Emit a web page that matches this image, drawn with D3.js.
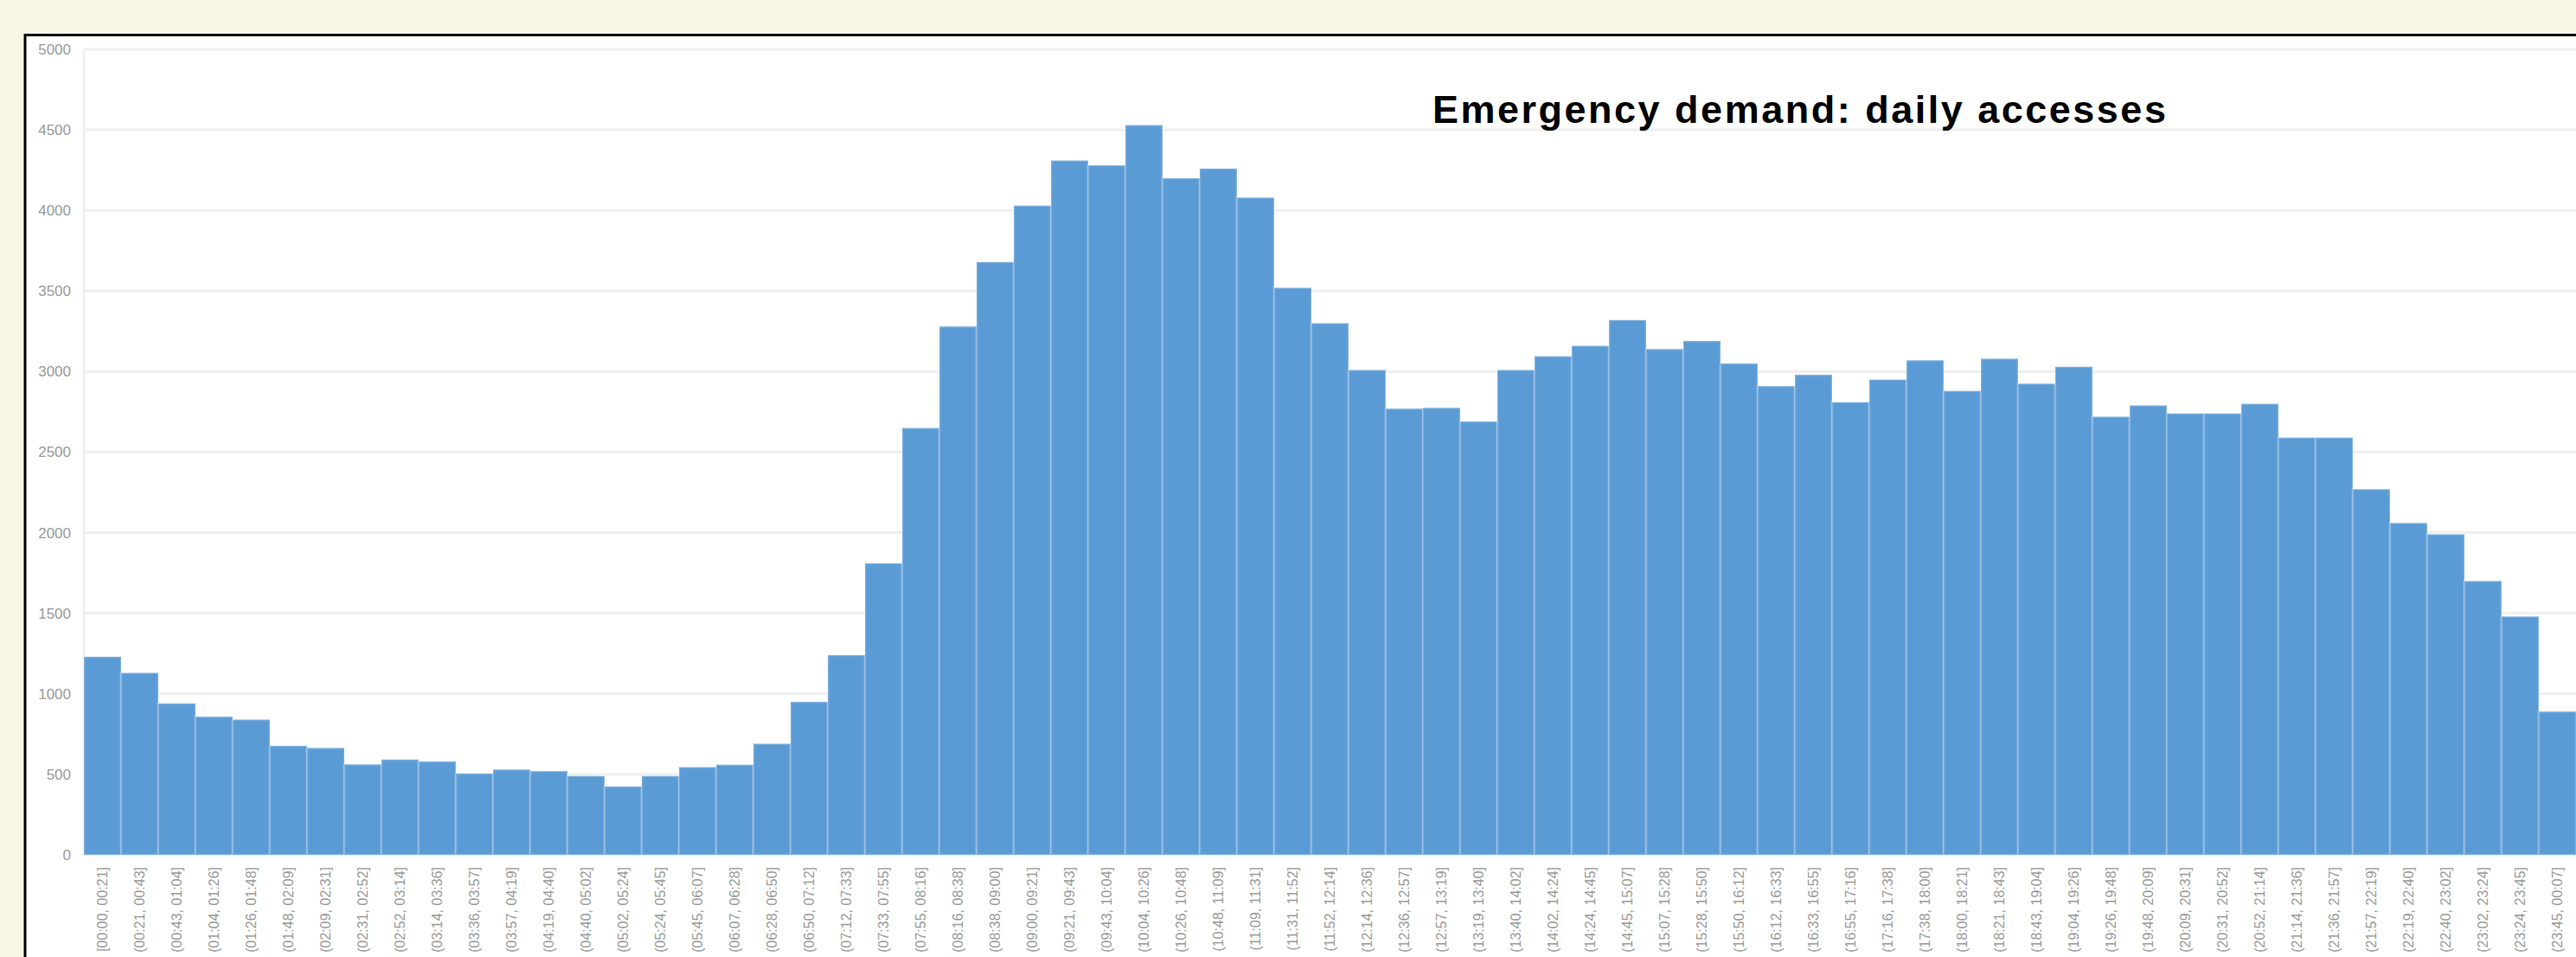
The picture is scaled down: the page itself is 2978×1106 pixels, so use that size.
<!DOCTYPE html>
<html>
<head>
<meta charset="utf-8">
<script src="https://cdn.jsdelivr.net/npm/d3@7"></script>
<style>
    body { margin: 0; background: #f8f6e4; }
    svg { display: block; }
</style>
</head>
<body>
<script>
// time bins (labels as printed on the x axis)
var bins = ["[00:00, 00:21]", "(00:21, 00:43]", "(00:43, 01:04]", "(01:04, 01:26]", "(01:26, 01:48]",
    "(01:48, 02:09]", "(02:09, 02:31]", "(02:31, 02:52]", "(02:52, 03:14]", "(03:14, 03:36]",
    "(03:36, 03:57]", "(03:57, 04:19]", "(04:19, 04:40]", "(04:40, 05:02]", "(05:02, 05:24]",
    "(05:24, 05:45]", "(05:45, 06:07]", "(06:07, 06:28]", "(06:28, 06:50]", "(06:50, 07:12]",
    "(07:12, 07:33]", "(07:33, 07:55]", "(07:55, 08:16]", "(08:16, 08:38]", "(08:38, 09:00]",
    "(09:00, 09:21]", "(09:21, 09:43]", "(09:43, 10:04]", "(10:04, 10:26]", "(10:26, 10:48]",
    "(10:48, 11:09]", "(11:09, 11:31]", "(11:31, 11:52]", "(11:52, 12:14]", "(12:14, 12:36]",
    "(12:36, 12:57]", "(12:57, 13:19]", "(13:19, 13:40]", "(13:40, 14:02]", "(14:02, 14:24]",
    "(14:24, 14:45]", "(14:45, 15:07]", "(15:07, 15:28]", "(15:28, 15:50]", "(15:50, 16:12]",
    "(16:12, 16:33]", "(16:33, 16:55]", "(16:55, 17:16]", "(17:16, 17:38]", "(17:38, 18:00]",
    "(18:00, 18:21]", "(18:21, 18:43]", "(18:43, 19:04]", "(19:04, 19:26]", "(19:26, 19:48]",
    "(19:48, 20:09]", "(20:09, 20:31]", "(20:31, 20:52]", "(20:52, 21:14]", "(21:14, 21:36]",
    "(21:36, 21:57]", "(21:57, 22:19]", "(22:19, 22:40]", "(22:40, 23:02]", "(23:02, 23:24]",
    "(23:24, 23:45]", "(23:45, 00:07]"];

// accesses per bin
var accesses = [1230, 1130, 940, 858, 840, 677, 664, 562, 592, 580,
    505, 530, 520, 490, 425, 490, 545, 560, 690, 950,
    1240, 1810, 2650, 3280, 3680, 4030, 4310, 4280, 4530, 4200,
    4260, 4080, 3520, 3300, 3010, 2770, 2775, 2690, 3010, 3095,
    3160, 3320, 3140, 3190, 3050, 2910, 2980, 2810, 2950, 3070,
    2880, 3080, 2925, 3030, 2720, 2790, 2740, 2740, 2800, 2590,
    2590, 2270, 2060, 1990, 1700, 1480, 890];

var yTicks = [0, 500, 1000, 1500, 2000, 2500, 3000, 3500, 4000, 4500, 5000];

var title = "Emergency demand: daily accesses";

function plot_it() {
    var width = 2978,
        height = 1106;
    var left = 97,
        right = 2978,
        top = 57,
        bottom = 988;

    var svg = d3.select('body').append('svg').attr('width', width).attr('height', height);

    // white card with black frame (cut off on right and bottom)
    svg.append('rect')
        .attr('x', 29).attr('y', 40.5)
        .attr('width', 3100).attr('height', 1200)
        .attr('fill', '#ffffff')
        .attr('stroke', '#000000')
        .attr('stroke-width', 3);

    var x = d3.scaleBand()
        .domain(bins)
        .range([left, right])
        .padding(0);

    var y = d3.scaleLinear()
        .domain([0, 5000])
        .range([bottom, top]);

    // grid lines
    svg.append('g').selectAll('line')
        .data(yTicks).enter()
        .append('line')
        .attr('x1', left).attr('x2', right)
        .attr('y1', d => y(d)).attr('y2', d => y(d))
        .attr('stroke', '#efefef')
        .attr('stroke-width', 3);

    svg.append('line')
        .attr('x1', left).attr('x2', left)
        .attr('y1', y(5000)).attr('y2', y(0))
        .attr('stroke', '#f0f0f0')
        .attr('stroke-width', 3);

    // y axis labels
    var yAxis = svg.append('g')
        .attr('transform', 'translate(' + (left - 12) + ',0)')
        .call(d3.axisLeft(y).tickValues(yTicks).tickSize(0).tickFormat(d3.format('d')));
    yAxis.select('.domain').remove();
    yAxis.selectAll('text')
        .attr('fill', '#9a9a9a')
        .style('font-family', 'Liberation Sans, Arial, sans-serif')
        .style('font-size', '17px');

    // bars
    svg.append('g').selectAll('rect')
        .data(accesses).enter()
        .append('rect')
        .attr('x', (d, i) => x(bins[i]))
        .attr('width', x.bandwidth())
        .attr('y', d => y(d))
        .attr('height', d => y(0) - y(d))
        .attr('fill', '#5b9bd5')
        .attr('stroke', 'rgba(255,255,255,0.22)')
        .attr('stroke-width', 2.5);

    // x axis labels, rotated
    var xAxis = svg.append('g')
        .attr('transform', 'translate(0,' + (bottom + 14) + ')')
        .call(d3.axisBottom(x).tickSize(0));
    xAxis.select('.domain').remove();
    xAxis.selectAll('text')
        .attr('transform', 'rotate(-90)')
        .attr('text-anchor', 'end')
        .attr('x', 0)
        .attr('y', 0)
        .attr('dy', '0.35em')
        .attr('fill', '#9a9a9a')
        .style('font-family', 'Liberation Sans, Arial, sans-serif')
        .style('font-size', '16px');

    // title
    svg.append('text')
        .attr('x', 1656)
        .attr('y', 142)
        .text(title)
        .attr('fill', '#000000')
        .style('font-family', 'Liberation Sans, Arial, sans-serif')
        .style('font-weight', 'bold')
        .style('font-size', '45px')
        .style('letter-spacing', '2.5px');
}

plot_it();
</script>
</body>
</html>
